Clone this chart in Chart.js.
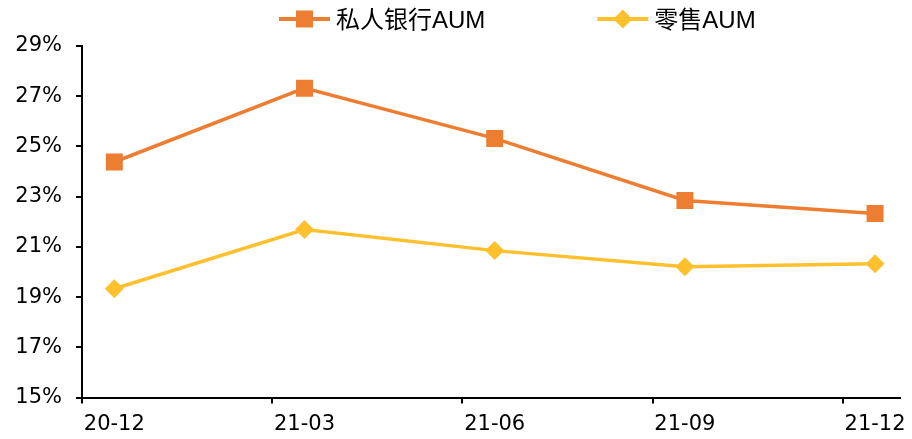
<!DOCTYPE html>
<html><head><meta charset="utf-8">
<script src="https://cdn.jsdelivr.net/npm/chart.js@4/dist/chart.umd.min.js"></script>
<style>html,body{margin:0;padding:0;background:#fff;}#wrap{width:912px;height:439px;}</style>
</head><body><div id="wrap"><canvas id="c" width="912" height="439"></canvas></div>
<script>
// ---- data ----
const categories = ['20-12', '21-03', '21-06', '21-09', '21-12'];
const seriesNames = ['私人银行AUM', '零售AUM'];
const privateBankingAUM = [24.38, 27.32, 25.32, 22.85, 22.33];
const retailAUM = [19.33, 21.69, 20.85, 20.21, 20.33];
const yTickMin = 15, yTickMax = 29, yTickStep = 2;

// ---- style ----
const ORANGE = '#ED7D31', YELLOW = '#FEC02C';
const TICK_FONT = { family: '"DejaVu Sans", "Liberation Sans", sans-serif', size: 21 };
const X_SHIFT = 0.17;   // category tick marks sit left of the points
const X_MAX = 4.131;

const legendPlugin = {
  id: 'customLegend',
  afterDraw(chart) {
    const ctx = chart.ctx;
    const cy = 19;
    let x = 279;
    chart.data.datasets.forEach((ds) => {
      ctx.save();
      ctx.strokeStyle = ds.borderColor;
      ctx.lineWidth = 4;
      ctx.beginPath(); ctx.moveTo(x, cy); ctx.lineTo(x + 51, cy); ctx.stroke();
      ctx.fillStyle = ds.borderColor;
      const cx = x + 25.5;
      ctx.beginPath();
      if (ds.pointStyle === 'rect') {
        ctx.rect(cx - 8.5, cy - 8.5, 17, 17);
      } else {
        ctx.moveTo(cx - 9.5, cy); ctx.lineTo(cx, cy - 9.5); ctx.lineTo(cx + 9.5, cy); ctx.lineTo(cx, cy + 9.5); ctx.closePath();
      }
      ctx.fill();
      ctx.font = '24px "Liberation Sans", "Noto Sans CJK SC", sans-serif';
      ctx.fillStyle = '#000';
      ctx.textBaseline = 'alphabetic';
      const w = ctx.measureText(ds.label).width;
      ctx.fillText(ds.label, x + 57, 27.5);
      ctx.restore();
      x += 57 + w + 112;
    });
  }
};

new Chart(document.getElementById('c'), {
  type: 'line',
  data: {
    datasets: [
      {
        label: seriesNames[0],
        data: privateBankingAUM.map((v, i) => ({ x: i, y: v })),
        borderColor: ORANGE, backgroundColor: ORANGE,
        borderWidth: 3.5, pointStyle: 'rect', pointRadius: 12, pointHoverRadius: 12,
        pointBorderWidth: 0, tension: 0
      },
      {
        label: seriesNames[1],
        data: retailAUM.map((v, i) => ({ x: i, y: v })),
        borderColor: YELLOW, backgroundColor: YELLOW,
        borderWidth: 3.5, pointStyle: 'rectRot', pointRadius: 9.5, pointHoverRadius: 9.5,
        pointBorderWidth: 0, tension: 0
      }
    ]
  },
  options: {
    responsive: false, animation: false, devicePixelRatio: 1,
    layout: { padding: { top: 46, right: 5, bottom: 0, left: 0 } },
    plugins: { legend: { display: false }, tooltip: { enabled: false } },
    scales: {
      x: {
        type: 'linear', min: -X_SHIFT, max: X_MAX,
        afterBuildTicks: (s) => { s.ticks = categories.map((c, i) => ({ value: i - X_SHIFT })); },
        ticks: {
          autoSkip: false, maxRotation: 0, labelOffset: 32.3, padding: 8, color: '#000', font: TICK_FONT,
          callback: (v, i) => categories[i]
        },
        grid: { drawOnChartArea: false, drawTicks: true, tickLength: 6, color: '#000', lineWidth: 2 },
        border: { display: true, color: '#000', width: 2 },
        afterFit: (s) => { s.height = 41.5; s.paddingLeft = 0; s.paddingRight = 0; }
      },
      y: {
        min: yTickMin, max: yTickMax,
        ticks: { stepSize: yTickStep, padding: 14, color: '#000', font: TICK_FONT, callback: (v) => v + '%' },
        grid: { drawOnChartArea: false, drawTicks: true, tickLength: 6, color: '#000', lineWidth: 2 },
        border: { display: true, color: '#000', width: 2 },
        afterFit: (s) => { s.width = 82; }
      }
    }
  },
  plugins: [legendPlugin]
});
</script>
</body></html>
